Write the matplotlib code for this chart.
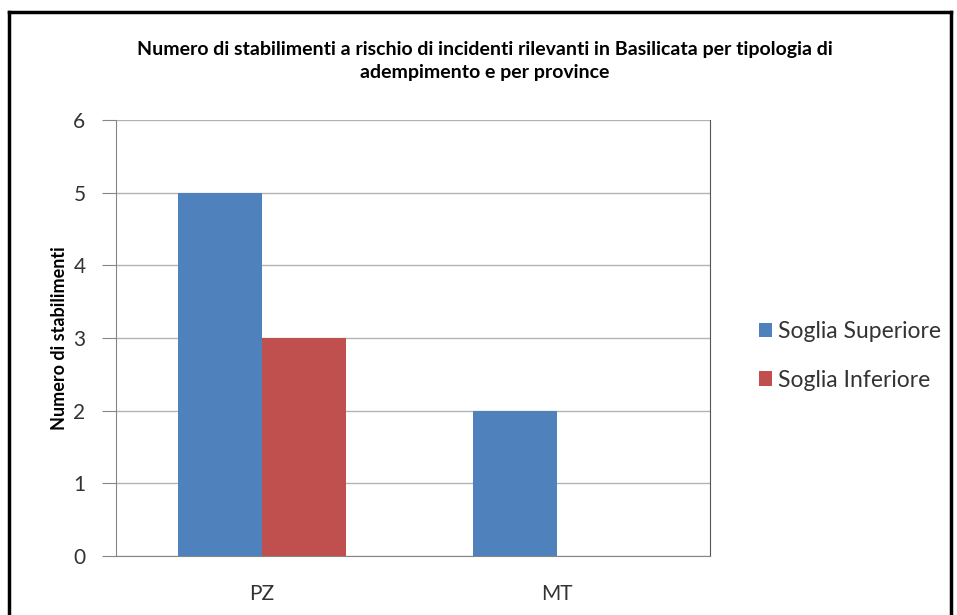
import matplotlib.pyplot as plt
import numpy as np
from matplotlib.lines import Line2D

province = ["PZ", "MT"]
soglia_superiore = [5, 2]
soglia_inferiore = [3, 0]

plt.rcParams['font.family'] = ['Lato', 'DejaVu Sans']

fig = plt.figure(figsize=(9.57, 6.15), dpi=100)
W, H = 957, 615
ax = fig.add_axes([116 / W, 1 - 556 / H, (710 - 116) / W, (556 - 120) / H])

x = np.arange(len(province))
w = 0.285
blue = '#4f81bd'
red = '#c0504d'
ax.bar(x - w / 2, soglia_superiore, w, color=blue, label='Soglia Superiore', zorder=3)
ax.bar(x + w / 2, soglia_inferiore, w, color=red, label='Soglia Inferiore', zorder=3)

ax.set_xlim(-0.495, 1.519)
ax.set_ylim(0, 6)
ax.set_yticks(range(0, 7))
ax.set_xticks(x)
ax.set_xticklabels(province)
ax.yaxis.grid(True, color='#b3b3b3', linewidth=1, zorder=0)

for s in ['left', 'bottom']:
    ax.spines[s].set_color('#868686')
ax.spines['top'].set_visible(False)
ax.spines['right'].set_color('#555555')
ax.tick_params(axis='y', length=10, color='#868686', labelsize=15, labelcolor='#333333', pad=12)
ax.tick_params(axis='x', length=0, labelsize=15, labelcolor='#333333', pad=20)

ax.set_ylabel('Numero di stabilimenti', fontsize=13, fontweight='bold')
ax.yaxis.set_label_coords(-0.08, 0.5)

fig.text(0.5 * (135 + 835) / W, 1 - 61 / H,
         'Numero di stabilimenti a rischio di incidenti rilevanti in Basilicata per tipologia di\nadempimento e per province',
         ha='center', va='center', fontsize=14, fontweight='bold', linespacing=1.45)

leg = fig.legend(loc='center left', bbox_to_anchor=(738 / W, 1 - 356 / H), frameon=False,
                 fontsize=16.5, handlelength=0.6, handleheight=0.6, handletextpad=0.25,
                 labelspacing=1.2)
for t in leg.get_texts():
    t.set_color('#333333')

# outer chart frame
fig.add_artist(Line2D([9 / W, 9 / W], [0, 1 - 12 / H], color='black', linewidth=2.5))
fig.add_artist(Line2D([9 / W, 951 / W], [1 - 12 / H, 1 - 12 / H], color='black', linewidth=2.5))
fig.add_artist(Line2D([951 / W, 951 / W], [0, 1 - 12 / H], color='black', linewidth=2.5))

fig.savefig('out.png', dpi=100)
